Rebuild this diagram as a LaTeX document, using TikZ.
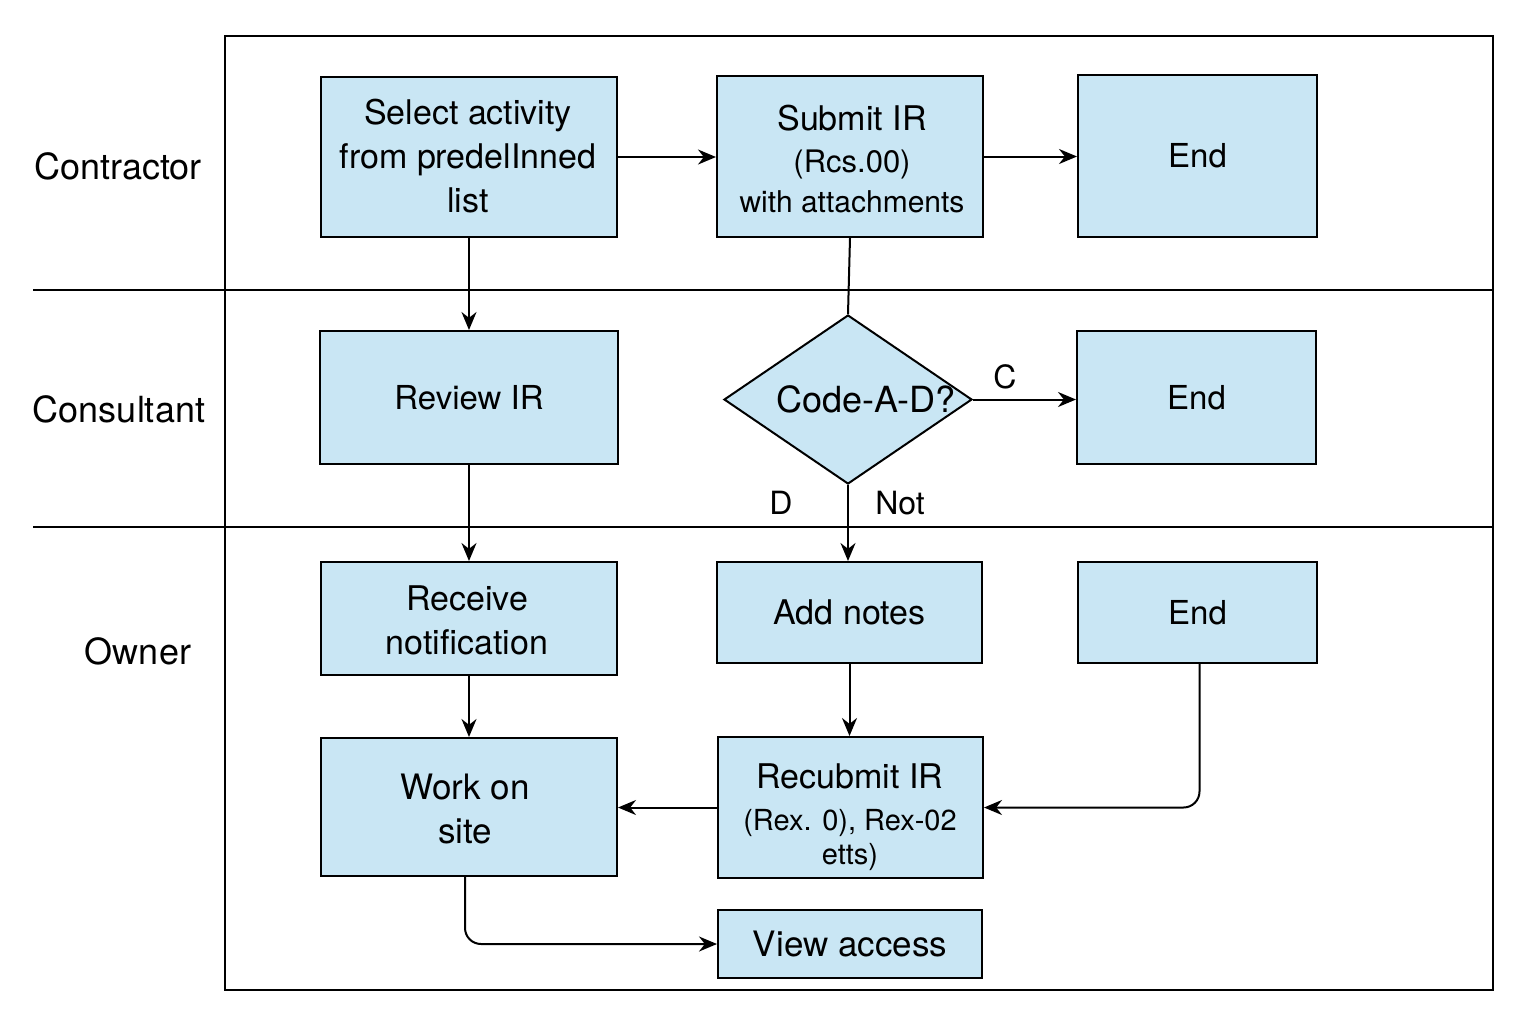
\documentclass[tikz,border=0pt]{standalone}
\usepackage{fontspec}
\setmainfont{TeX Gyre Heros}
\usetikzlibrary{shapes.geometric,arrows.meta}
\definecolor{boxblue}{HTML}{C9E6F4}
\begin{document}
\begin{tikzpicture}[x=0.5pt,y=-0.5pt,
  box/.style={draw=black, line width=1pt, fill=boxblue, inner sep=0pt, align=center, font=\fontsize{17}{22}\selectfont},
  txt/.style={inner sep=0pt, align=center, font=\fontsize{17}{22}\selectfont},
  arr/.style={-{Stealth[length=9pt,width=7.5pt]}, line width=1pt},
  ln/.style={line width=1pt},
  lane/.style={font=\fontsize{18}{22}\selectfont},
  lbl/.style={font=\fontsize{16}{20}\selectfont, inner sep=0pt}]
\fill[white] (0,0) rectangle (1536,1024);
\useasboundingbox (0,0) rectangle (1536,1024);
% frame and lanes
\draw[ln] (225,36) rectangle (1493,990);
\draw[ln] (33,290) -- (1493,290);
\draw[ln] (33,527) -- (1493,527);
\node[lane] (lcon) at (118,166) {Contractor};
\node[lane] (lcons) at (119,409) {Consultant};
\node[lane] (lown) at (138,651) {Owner};
% boxes
\node[box, minimum width=148pt, minimum height=80pt] (sel) at (469,157) {};
\node[txt] (seltxt) at (468,156) {Select activity\\from predelInned\\list};
\node[box, minimum width=133pt, minimum height=80.5pt] (sub) at (850,156.5) {};
\node[txt] (subtxt) at (852,159) {Submit IR\\[-1pt]{\fontsize{15.5}{20}\selectfont (Rcs.00)}\\[-2pt]{\fontsize{15}{20}\selectfont with attachments}};
\node[box, minimum width=119.5pt, minimum height=81pt, font=\fontsize{16.5}{20}\selectfont] (end1) at (1197.5,156) {End};
\node[box, minimum width=149pt, minimum height=66.5pt, font=\fontsize{16.5}{20}\selectfont] (rev) at (469,397.5) {Review IR};
\node[diamond, draw=black, line width=1pt, fill=boxblue, inner sep=0pt, minimum width=124pt, minimum height=84.5pt] (dia) at (848,399.5) {};
\node[font=\fontsize{18}{22}\selectfont, inner sep=0pt] (dialbl) at (866,399) {Code-A-D?};
\node[box, minimum width=119.5pt, minimum height=66.5pt, font=\fontsize{16.5}{20}\selectfont] (end2) at (1196.5,397.5) {End};
\node[box, minimum width=148pt, minimum height=56.5pt] (rec) at (469,618.5) {};
\node[txt] (rectxt) at (467,620) {Receive\\notification};
\node[box, minimum width=132.5pt, minimum height=50.5pt] (add) at (849.5,612.5) {Add notes};
\node[box, minimum width=119.5pt, minimum height=50.5pt, font=\fontsize{16.5}{20}\selectfont] (end3) at (1197.5,612.5) {End};
\node[box, minimum width=148pt, minimum height=69pt] (work) at (469,807) {};
\node[txt, font=\fontsize{17.5}{22}\selectfont] (worktxt) at (465,809) {Work on\\site};
\node[box, minimum width=132.5pt, minimum height=70.5pt] (resub) at (850.5,807.5) {};
\node[txt] (resubtxt) at (850,817) {Recubmit IR\\[-1pt]{\fontsize{14.5}{17}\selectfont (Rex. 0), Rex-02}\\[-5pt]{\fontsize{14.5}{17}\selectfont etts)}};
\node[box, minimum width=132pt, minimum height=34pt, font=\fontsize{17.5}{22}\selectfont] (view) at (850,944) {View access};
% labels
\node[lbl] (lc) at (1005,377) {C};
\node[lbl] (ld) at (781,503) {D};
\node[lbl] (lnot) at (900,503) {Not};
% connectors
\draw[arr] (sel.east) -- (sel.east -| sub.west);
\draw[arr] (sub.east) -- (sub.east -| end1.west);
\draw[arr] (sel.south) -- (sel.south |- rev.north);
\draw[arr] (rev.south) -- (rev.south |- rec.north);
\draw[ln] (sub.south) -- (dia.north);
\draw[arr] (dia.east) -- (dia.east -| end2.west);
\draw[arr] (dia.south) -- (dia.south |- add.north);
\draw[arr] (rec.south) -- (rec.south |- work.north);
\draw[arr] (add.south) -- (add.south |- resub.north);
\draw[arr] (resub.west) -- (resub.west -| work.east);
\draw[arr, rounded corners=8pt] ([xshift=1pt]end3.south) |- (resub.east);
\draw[arr, rounded corners=8pt] ([xshift=-2pt]work.south) |- (view.west);
\end{tikzpicture}
\end{document}
